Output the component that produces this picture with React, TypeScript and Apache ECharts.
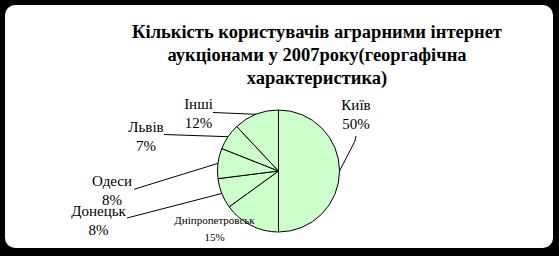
import React, { useEffect, useRef } from "react";
import * as echarts from "echarts";

const categories = ["Київ", "Дніпропетровськ", "Донецьк", "Одеси", "Львів", "Інші"];
const shares = [50, 15, 8, 8, 7, 12];
const titleLines = [
  "Кількість користувачів аграрними інтернет",
  "аукціонами у 2007року(георгафічна",
  "характеристика)",
];

// label placement (centre of text block) and label-line end points
const labelPos: [number, number][] = [
  [356, 114.5],
  [214.5, 228.5],
  [98.5, 220.5],
  [112, 190],
  [146, 136],
  [198.5, 113.5],
];
const lineEnds: ([number, number] | null)[] = [
  [356, 136],
  null,
  [127, 218],
  [134, 189.3],
  [164, 134.5],
  [213, 112.5],
];

export default function App() {
  const ref = useRef<HTMLDivElement>(null);
  useEffect(() => {
    if (!ref.current) return;
    const chart = echarts.init(ref.current, null, { renderer: "svg" });
    const data = categories.map((name, i) => {
      const item: any = { name, value: shares[i] };
      if (i === 1) {
        item.label = { fontSize: 11, lineHeight: 16.5 };
        item.labelLine = { show: false };
      }
      return item;
    });
    chart.setOption({
      animation: false,
      backgroundColor: "#000",
      graphic: [
        {
          type: "rect",
          z: 0,
          shape: { x: 5, y: 5, width: 548, height: 243, r: 10 },
          style: { fill: "#fff" },
        },
      ],
      title: {
        text: titleLines.join("\n"),
        left: 312,
        top: 15,
        textAlign: "center",
        textStyle: {
          fontFamily: "Liberation Serif",
          fontWeight: "bold",
          fontSize: 18.5,
          lineHeight: 23,
          color: "#000",
        },
      },
      series: [
        {
          type: "pie",
          center: [278.5, 171],
          radius: 61,
          startAngle: 90,
          clockwise: true,
          silent: true,
          avoidLabelOverlap: false,
          itemStyle: { color: "#ccffcc", borderColor: "#000", borderWidth: 1 },
          label: {
            show: true,
            position: "outside",
            formatter: "{b}\n{c}%",
            fontFamily: "Liberation Serif",
            fontSize: 15,
            lineHeight: 19,
            color: "#000",
          },
          labelLine: { show: true, lineStyle: { color: "#000", width: 1 } },
          emphasis: { disabled: true },
          labelLayout: (p: any) => {
            const i = p.dataIndex;
            const res: any = {
              x: labelPos[i][0],
              y: labelPos[i][1],
              align: "center",
              verticalAlign: "middle",
            };
            const end = lineEnds[i];
            if (end && p.labelLinePoints) {
              const start = p.labelLinePoints[0];
              if (i === 0) {
                res.labelLinePoints = [start, [end[0] - 1, end[1] + 5], end];
              } else {
                res.labelLinePoints = [start, start, end];
              }
            }
            return res;
          },
          data,
        },
      ],
    });
    return () => chart.dispose();
  }, []);
  return (
    <div
      ref={ref}
      style={{ position: "fixed", left: 0, top: 0, width: 559, height: 256 }}
    />
  );
}
